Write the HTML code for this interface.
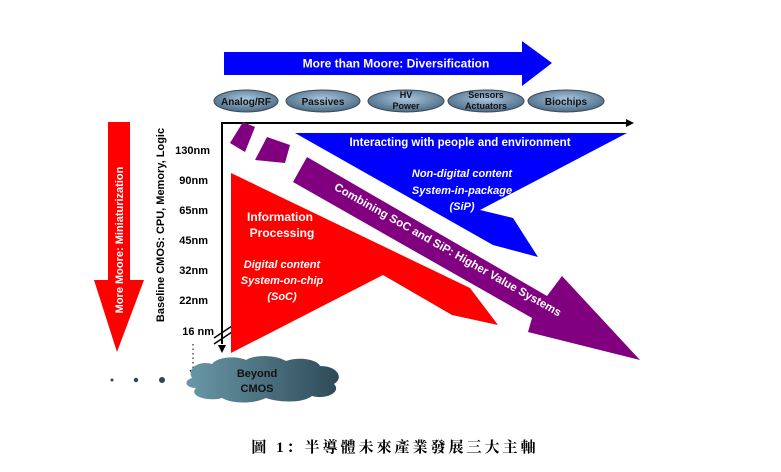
<!DOCTYPE html>
<html><head><meta charset="utf-8"><style>
html,body{margin:0;padding:0;background:#fff;width:781px;height:472px;overflow:hidden}
svg{display:block}
text{font-family:"Liberation Sans",Arial,sans-serif;font-weight:bold}
</style></head><body>
<svg width="781" height="472" viewBox="0 0 781 472" xmlns="http://www.w3.org/2000/svg">
<defs>
<radialGradient id="eg" cx="50%" cy="40%" r="60%"><stop offset="0" stop-color="#a9c6de"/><stop offset="1" stop-color="#4d6a84"/></radialGradient>
<linearGradient id="cg" x1="0" y1="0" x2="1" y2="0"><stop offset="0" stop-color="#6a98a8"/><stop offset="1" stop-color="#2e4a58"/></linearGradient>
</defs>
<!-- top blue arrow -->
<polygon points="224,52 522,52 522,41 552,63 522,86 522,75 224,75" fill="#0000ff"/>
<text x="396" y="67.5" fill="#fff" font-size="12" text-anchor="middle">More than Moore:  Diversification</text>
<!-- ellipses -->
<g stroke="#3a4a5a" stroke-width="1" fill="url(#eg)">
<ellipse cx="246" cy="101" rx="32" ry="11"/>
<ellipse cx="323" cy="101" rx="37" ry="11"/>
<ellipse cx="406" cy="101" rx="38" ry="11"/>
<ellipse cx="486" cy="101" rx="38" ry="11"/>
<ellipse cx="566" cy="101" rx="38" ry="11"/>
</g>
<g fill="#111" font-size="10" text-anchor="middle">
<text x="246" y="105">Analog/RF</text>
<text x="323" y="105">Passives</text>
<text x="406" y="98" font-size="9">HV</text><text x="406" y="109" font-size="9">Power</text>
<text x="486" y="98" font-size="9">Sensors</text><text x="486" y="109" font-size="9">Actuators</text>
<text x="566" y="105">Biochips</text>
</g>
<!-- left red arrow -->
<polygon points="108,122 130,122 130,280 144,280 117,352 94,280 108,280" fill="#ff0000"/>
<text transform="translate(123,240) rotate(-90)" fill="#fff" font-size="11" text-anchor="middle">More Moore:  Miniaturization</text>
<text transform="translate(164,225) rotate(-90)" fill="#000" font-size="11" text-anchor="middle">Baseline CMOS:  CPU, Memory, Logic</text>
<g font-size="11" fill="#000" text-anchor="end">
<text x="210" y="154">130nm</text><text x="208" y="184">90nm</text><text x="208" y="214">65nm</text>
<text x="208" y="244">45nm</text><text x="208" y="274">32nm</text><text x="208" y="304">22nm</text>
<text x="214" y="335">16 nm</text>
</g>
<!-- axes -->
<line x1="222" y1="123" x2="628" y2="123" stroke="#000" stroke-width="2"/>
<polygon points="626,119 634,123 626,127" fill="#000"/>
<line x1="222" y1="122" x2="222" y2="344" stroke="#000" stroke-width="2"/>
<line x1="214" y1="338" x2="232" y2="326" stroke="#000" stroke-width="1.5"/>
<line x1="214" y1="344" x2="232" y2="332" stroke="#000" stroke-width="1.5"/>
<polygon points="218,345 226,345 222,353" fill="#000"/>
<!-- blue -->
<polygon points="295,133 627,133 480,210 513,218 538,257 493,245" fill="#0000ff"/>
<text x="460" y="146" fill="#fff" font-size="11.5" text-anchor="middle">Interacting with people and environment</text>
<g fill="#fff" font-size="11" font-style="italic" text-anchor="middle">
<text x="462" y="177">Non-digital  content</text><text x="462" y="194">System-in-package</text><text x="462" y="210">(SiP)</text>
</g>
<!-- red -->
<polygon points="231,173 470,288 498,325 452,315 383,275 231,353" fill="#ff0000"/>
<g fill="#fff" font-size="12" text-anchor="middle">
<text x="280" y="221">Information</text><text x="282" y="237">Processing</text>
</g>
<g fill="#fff" font-size="11" font-style="italic" text-anchor="middle">
<text x="282" y="268">Digital  content</text><text x="282" y="284">System-on-chip</text><text x="282" y="300">(SoC)</text>
</g>
<!-- purple -->
<polygon points="243,122 255,127 245,152 230,143" fill="#800080"/>
<polygon points="267,137 290,145 285,163 255,160" fill="#800080"/>
<polygon points="307,157 547,296 562,276 640,360 528,332 532,318 293,182" fill="#800080"/>
<text transform="translate(446,253) rotate(29.5)" fill="#fff" font-size="11.5" text-anchor="middle">Combining  SoC and SiP:  Higher Value Systems</text>
<!-- beyond cmos -->
<line x1="193" y1="344" x2="193" y2="368" stroke="#000" stroke-width="1" stroke-dasharray="1.5,3"/>
<path d="M190,370 L193,375 L196,370" fill="none" stroke="#000" stroke-width="1"/>
<path d="M192,378 C186,368 200,360 212,364 C218,356 238,356 246,360 C256,354 276,355 286,361 C300,356 318,360 320,366 C338,366 344,378 334,384 C342,392 326,400 312,396 C302,404 276,402 266,398 C254,404 232,404 222,398 C208,402 188,396 196,388 C184,388 184,380 192,378 Z" fill="url(#cg)"/>
<g fill="#111" font-size="11" text-anchor="middle"><text x="257" y="377">Beyond</text><text x="257" y="392">CMOS</text></g>
<circle cx="112" cy="380" r="1.5" fill="#345"/><circle cx="136" cy="380" r="2.2" fill="#345"/><circle cx="162" cy="380" r="3" fill="#345"/>
<!-- caption -->
<text x="395" y="452" fill="#000" font-size="15" font-weight="normal" text-anchor="middle" style="font-family:'Liberation Serif','Noto Serif CJK SC',serif;letter-spacing:3px">圖 1：半導體未來產業發展三大主軸</text>
</svg>
</body></html>
